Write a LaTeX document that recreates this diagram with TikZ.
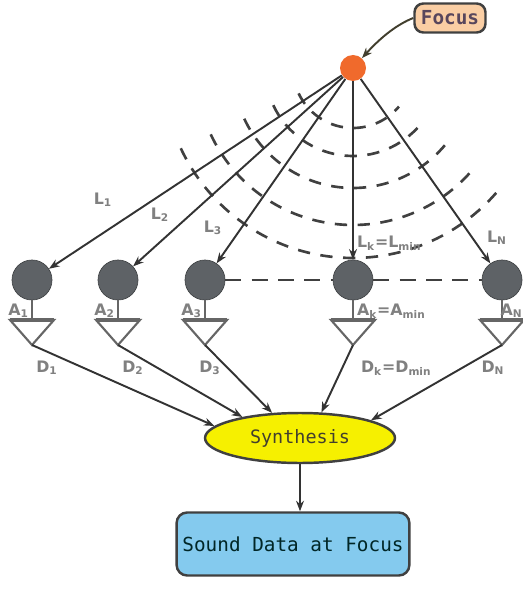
\documentclass[tikz,border=0pt]{standalone}
\usepackage{fontspec}
\setmainfont{DejaVu Sans}
\setmonofont{DejaVu Sans Mono}
\usetikzlibrary{shapes.geometric,arrows.meta}

\definecolor{micgray}{RGB}{94,98,102}
\definecolor{focusorange}{RGB}{240,106,44}
\definecolor{tagpeach}{RGB}{250,206,164}
\definecolor{tagtext}{RGB}{88,70,92}
\definecolor{synyellow}{RGB}{246,240,0}
\definecolor{outblue}{RGB}{132,202,238}

\begin{document}
\begin{tikzpicture}[x=0.02cm,y=-0.02cm,>={Stealth[length=6pt,width=4.5pt]},
  ray/.style={draw=black!80,line width=1.1pt},
  wave/.style={draw=black!75,line width=1.5pt,dash pattern=on 7pt off 6pt},
  mic/.style={circle,fill=micgray,draw=micgray!70!black,minimum size=0.8cm,inner sep=0pt},
  lab/.style={font=\fontsize{9}{10}\selectfont\bfseries,text=black!50,inner sep=1pt}]
\useasboundingbox (0,0) rectangle (523,594);

\node[circle,fill=focusorange,minimum size=0.52cm,inner sep=0pt] (fpt) at (353,68) {};
\node[draw=black!75,line width=1.4pt,fill=tagpeach,rounded corners=5pt,
  minimum width=1.42cm,minimum height=0.58cm,inner sep=1pt,
  font=\ttfamily\bfseries\fontsize{11}{12}\selectfont,text=tagtext] (ftag) at (450,18) {Focus};
\draw[->,line width=1.1pt,draw=black!70!olive] (ftag.west) .. controls (398,24) and (382,36) .. (fpt);

% wave fronts
\foreach \r in {60,88,120,157,190}
  \draw[wave] (fpt.center) ++(155:\r) arc (155:40:\r);

% microphones
\foreach \i/\x in {1/32,2/118,3/205,4/353,5/502} {
  \node[mic] (m\i) at (\x,280) {};
  \draw[draw=black!60,line width=1.4pt] (m\i.south) -- (\x,320);
  \draw[draw=black!60,line width=1.2pt,fill=white] (\x-22,320) -- (\x+22,320) -- (\x,345) -- cycle;
  \draw[draw=black!60,line width=2pt] (\x-22,320) -- (\x+22,320);
  \coordinate (t\i) at (\x,345);
}
\draw[wave,dash pattern=on 9pt off 6pt] (m3) -- (m4);
\draw[wave,dash pattern=on 9pt off 6pt] (m4) -- (m5);

\foreach \i in {1,...,5}
  \draw[ray,->] (fpt) -- (m\i);

\node[lab] at (103,200) {L\textsubscript{1}};
\node[lab] at (160,215) {L\textsubscript{2}};
\node[lab] at (213,228) {L\textsubscript{3}};
\node[lab,anchor=west] at (355,243) {L\textsubscript{k}=L\textsubscript{min}};
\node[lab] at (497,238) {L\textsubscript{N}};

\node[lab,anchor=east] at (31,311) {A\textsubscript{1}};
\node[lab,anchor=east] at (117,311) {A\textsubscript{2}};
\node[lab,anchor=east] at (204,311) {A\textsubscript{3}};
\node[lab,anchor=west] at (355,311) {A\textsubscript{k}=A\textsubscript{min}};
\node[lab,anchor=east,inner sep=0pt] at (523,311) {A\textsubscript{N}};

\node[lab] at (47,368) {D\textsubscript{1}};
\node[lab] at (133,368) {D\textsubscript{2}};
\node[lab] at (210,368) {D\textsubscript{3}};
\node[lab,anchor=west] at (359,368) {D\textsubscript{k}=D\textsubscript{min}};
\node[lab] at (493,368) {D\textsubscript{N}};

\node[ellipse,draw=black!75,line width=1.4pt,fill=synyellow,minimum width=3.8cm,minimum height=1cm,
  font=\ttfamily\fontsize{10.5}{12}\selectfont,text=black!70!olive] (syn) at (300,438) {Synthesis};
\node[draw=black!75,line width=1.4pt,fill=outblue,rounded corners=6pt,minimum width=4.64cm,minimum height=1.26cm,
  font=\ttfamily\fontsize{11}{12}\selectfont,text=black!70!teal] (snd) at (293,544) {Sound Data at Focus};

\draw[ray,->] (t1) -- (syn.172);
\draw[ray,->] (t2) -- (syn.160);
\draw[ray,->] (t3) -- (syn.138);
\draw[ray,->] (t4) -- (syn.50);
\draw[ray,->] (t5) -- (syn.14);
\draw[ray,->] (syn.south) -- (syn.south |- snd.north);

\end{tikzpicture}
\end{document}
